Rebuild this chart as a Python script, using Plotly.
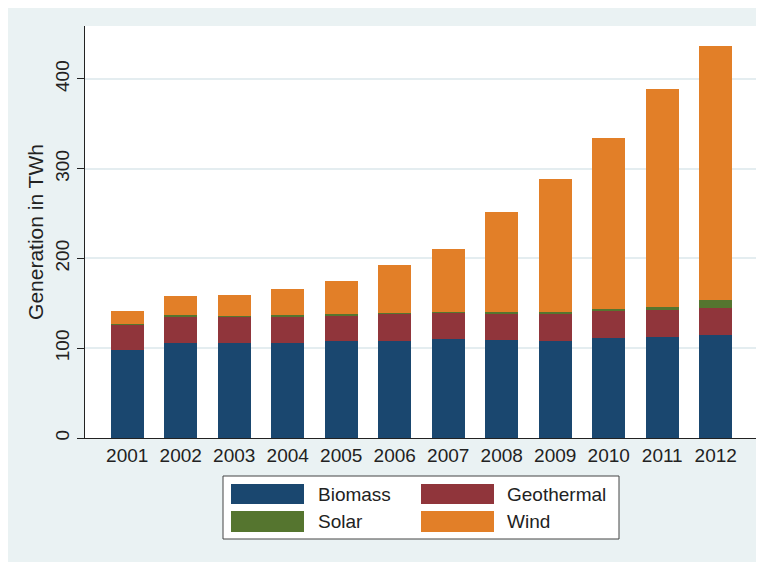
import plotly.graph_objects as go

years = [str(y) for y in range(2001, 2013)]
biomass = [98.5, 105.8, 105.5, 105.8, 107.7, 108.0, 110.3, 109.2, 108.0, 111.4, 112.5, 114.4]
geothermal = [27.5, 30.1, 29.3, 30.1, 29.3, 30.2, 29.3, 29.7, 30.5, 30.5, 30.5, 30.8]
solar = [1.0, 0.8, 1.2, 1.1, 1.2, 1.1, 0.8, 1.1, 1.5, 1.8, 3.3, 8.9]
wind = [14.5, 21.5, 23.3, 29.0, 36.7, 53.8, 70.2, 112.1, 148.6, 190.9, 242.2, 283.0]

names = ["Biomass", "Geothermal", "Solar", "Wind"]
series = [biomass, geothermal, solar, wind]
colors = ["#1A476F", "#90353B", "#55752F", "#E27F28"]

BG = "#EAF2F3"
GRID = "#E4EDF0"
INK = "#222222"
FONT = "Liberation Sans, Arial, sans-serif"

# page is offset by the 8px body margin; figure is 754 x 554
W, H, OFF = 754, 554, 8
# plot area in page pixels
L, R, T, B = 85, 758, 26, 438


def px_x(p):
    return (p - L) / (R - L)


def px_y(p):
    return (B - p) / (B - T)


fig = go.Figure()
for name, vals, col in zip(names, series, colors):
    fig.add_trace(go.Bar(x=years, y=vals, name=name, marker=dict(color=col, line=dict(width=0))))

fig.update_layout(
    barmode="stack",
    bargap=0.38,
    width=W, height=H,
    margin=dict(l=L - OFF, r=W + OFF - R, t=T - OFF, b=H + OFF - B),
    paper_bgcolor=BG,
    plot_bgcolor="white",
    font=dict(family=FONT, size=19, color=INK),
    showlegend=False,
)
fig.update_xaxes(
    type="category", range=[-0.79, 11.79],
    showline=True, linecolor=INK, linewidth=1,
    ticks="", showgrid=False, tickfont=dict(size=19),
)
fig.update_yaxes(
    range=[0, 459], tickvals=[0, 100, 200, 300, 400], tickangle=-90,
    ticks="outside", ticklen=7, tickcolor=INK,
    showline=True, linecolor=INK, linewidth=1,
    showgrid=True, gridcolor=GRID, gridwidth=1.5, zeroline=False,
    title=dict(text="Generation in TWh", font=dict(size=21), standoff=3),
)

# legend box, drawn by hand to get Stata-style wide swatches
fig.add_shape(type="rect", xref="paper", yref="paper",
              x0=px_x(223), x1=px_x(619), y0=px_y(539), y1=px_y(476),
              fillcolor="white", line=dict(color="#444444", width=1))
cols = [(231, 304, 316), (421, 494, 505)]
rows = [(484, 504), (511, 532)]
for i, (name, col) in enumerate(zip(names, colors)):
    r, c = divmod(i, 2)
    sx0, sx1, tx = cols[c]
    sy0, sy1 = rows[r]
    fig.add_shape(type="rect", xref="paper", yref="paper",
                  x0=px_x(sx0), x1=px_x(sx1), y0=px_y(sy1), y1=px_y(sy0),
                  fillcolor=col, line=dict(width=0))
    fig.add_annotation(x=px_x(tx), y=px_y((sy0 + sy1) / 2), xref="paper", yref="paper",
                       text=name, showarrow=False, xanchor="left", yanchor="middle",
                       font=dict(size=19, color=INK))

fig.write_html("out.html")
